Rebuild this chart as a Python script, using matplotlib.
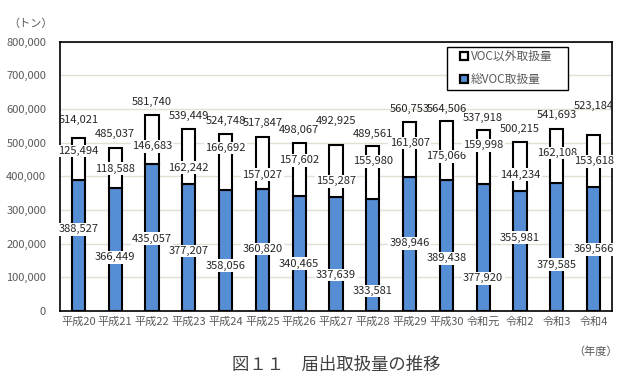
import matplotlib
matplotlib.use("Agg")
import matplotlib.pyplot as plt
from matplotlib.patches import Patch, Rectangle

plt.rcParams['font.family'] = ['Noto Sans CJK JP', 'DejaVu Sans']

categories = ["平成20", "平成21", "平成22", "平成23", "平成24", "平成25", "平成26",
              "平成27", "平成28", "平成29", "平成30", "令和元", "令和2", "令和3", "令和4"]
voc = [388527, 366449, 435057, 377207, 358056, 360820, 340465, 337639,
       333581, 398946, 389438, 377920, 355981, 379585, 369566]
non_voc = [125494, 118588, 146683, 162242, 166692, 157027, 157602, 155287,
           155980, 161807, 175066, 159998, 144234, 162108, 153618]
totals = [514021, 485037, 581740, 539449, 524748, 517847, 498067, 492925,
          489561, 560753, 564506, 537918, 500215, 541693, 523184]
yticks = [0, 100000, 200000, 300000, 400000, 500000, 600000, 700000, 800000]

# label placement (data units), as placed manually in the original
total_label_y = [566000, 524000, 620000, 578000, 563000, 558000, 536000, 564000,
                 526000, 600000, 600000, 574000, 539000, 581000, 610000]
nonvoc_label_y = [475000, 423000, 489000, 425000, 484000, 405000, 447000, 385000,
                  444000, 499000, 459000, 492000, 405000, 469000, 444000]
voc_label_y = [242000, 159000, 215000, 178000, 135000, 184000, 141000, 107000,
               59000, 201000, 156000, 97000, 218000, 138000, 183000]

fig = plt.figure(figsize=(6.37, 3.85), dpi=100)
ax = fig.add_axes([60/637, 1-311/385, 552/637, 269.5/385])

x = list(range(len(categories)))
bw = 0.36
ax.bar(x, voc, width=bw, color="#558ED5", edgecolor="black", linewidth=1.5, zorder=3,
       label="総VOC取扱量")
ax.bar(x, non_voc, bottom=voc, width=bw, color="white", edgecolor="black", linewidth=1.5,
       zorder=3, label="VOC以外取扱量")

ax.set_xlim(-0.5, len(categories) - 0.5)
ax.set_ylim(0, 800000)
ax.set_yticks(yticks)
ax.set_yticklabels([f"{v:,}" for v in yticks], color="#595959", fontsize=8)
ax.set_xticks(x)
ax.set_xticklabels(categories, color="#595959", fontsize=8)
ax.tick_params(axis='x', length=3, direction='in', color='black', pad=4)
ax.tick_params(axis='y', length=0, pad=10)
ax.yaxis.grid(True, color="#E2DFD3", linewidth=1, zorder=0)
ax.set_axisbelow(True)
for s in ax.spines.values():
    s.set_color("black")
    s.set_linewidth(1.2)

lbl_kw = dict(ha="center", va="center", fontsize=8, color="#262626", zorder=5,
              bbox=dict(boxstyle="square,pad=0.12", fc="white", ec="none"))
for i in x:
    ax.text(i, total_label_y[i], f"{totals[i]:,}", ha="center", va="center",
            fontsize=8, color="#262626", zorder=5)
    ax.text(i, nonvoc_label_y[i], f"{non_voc[i]:,}", **lbl_kw)
    ax.text(i, voc_label_y[i], f"{voc[i]:,}", **lbl_kw)

# legend frame drawn separately to match the original's wide horizontal padding
fig.add_artist(Rectangle((446.5/637, 1-90/385), 121/637, 43.5/385,
                         transform=fig.transFigure, facecolor="white",
                         edgecolor="black", linewidth=1.0, zorder=4))
handles = [Patch(facecolor="white", edgecolor="black", linewidth=1.6),
           Patch(facecolor="#558ED5", edgecolor="black", linewidth=1.6)]
leg = fig.legend(handles, ["VOC以外取扱量", "総VOC取扱量"], loc="upper left",
                 bbox_to_anchor=(460/637, 1-50/385), fontsize=8.5, frameon=False,
                 handlelength=0.65, handleheight=0.65, handletextpad=0.25,
                 borderpad=0, labelspacing=0.85, borderaxespad=0)
leg.set_zorder(6)
for t in leg.get_texts():
    t.set_color("#595959")

fig.text(31/637, 1-24/385, "（トン）", ha="center", va="center", fontsize=8, color="#595959")
fig.text(596/637, 1-352/385, "（年度）", ha="center", va="center", fontsize=8, color="#595959")
fig.text(336/637, 1-365/385, "図１１　届出取扱量の推移", ha="center", va="center",
         fontsize=12.5, color="#404040")

fig.savefig("out.png", dpi=100)
